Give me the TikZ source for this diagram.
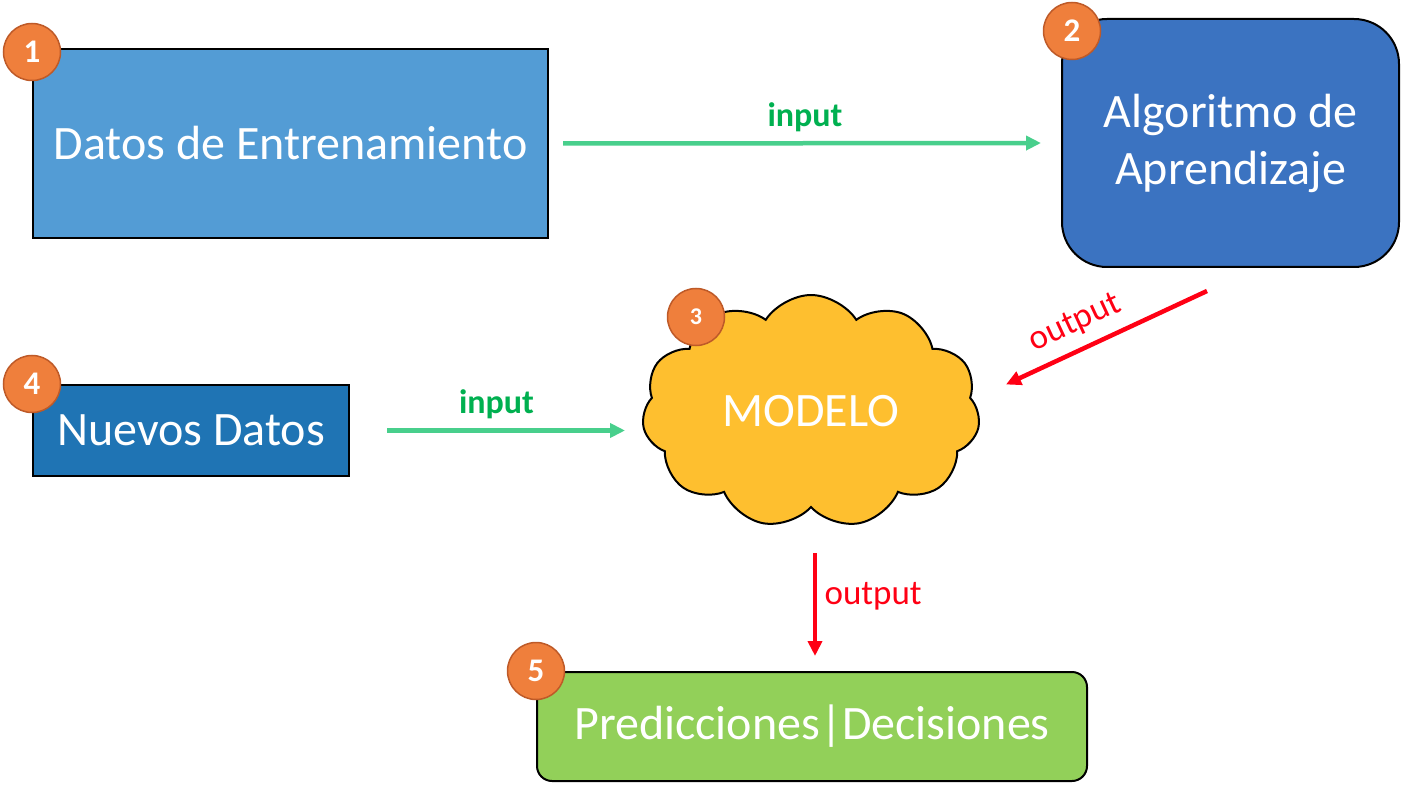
\documentclass[tikz,border=0pt]{standalone}
\usepackage{fontspec}
\setmainfont{Carlito}
\usepackage{tikz}
\usetikzlibrary{calc,arrows.meta,shapes.symbols}
\definecolor{boxlight}{RGB}{83,156,213}
\definecolor{boxmid}{RGB}{59,115,193}
\definecolor{boxdark}{RGB}{31,116,180}
\definecolor{cloudfill}{RGB}{254,191,47}
\definecolor{predfill}{RGB}{146,208,89}
\definecolor{badgefill}{RGB}{239,127,60}
\definecolor{badgeline}{RGB}{190,90,40}
\definecolor{inline}{RGB}{72,207,140}
\definecolor{intext}{RGB}{0,176,80}
\definecolor{outred}{RGB}{255,0,20}
\tikzset{
  bigtext/.style={text=white, font=\fontsize{48}{57}\selectfont},
  stagebox/.style={
    bigtext, draw=black, line width=2pt, inner sep=0pt
  },
  badge/.style={
    circle, fill=badgefill, draw=badgeline, line width=1.5pt,
    minimum size=57pt, inner sep=0pt, text=white,
    font=\bfseries\fontsize{33}{35}\selectfont
  },
  inarrow/.style={
    draw=inline, line width=4.5pt,
    -{Triangle[length=15pt,width=14pt]}
  },
  outarrow/.style={
    draw=outred, line width=4.5pt,
    -{Triangle[length=15pt,width=14pt]}
  },
  inlabel/.style={text=intext, font=\bfseries\fontsize{34}{40}\selectfont},
  outlabel/.style={text=outred, font=\fontsize{35}{40}\selectfont}
}

\begin{document}
\begin{tikzpicture}[x=1pt,y=-1pt]
  \useasboundingbox (0,0) rectangle (1405,786);

  % the five stages
  \node[stagebox, fill=boxlight, minimum width=515pt, minimum height=189pt]
    (datos) at (290.5,143.5) {Datos de Entrenamiento};
  \node[stagebox, fill=boxmid, rounded corners=45pt, align=center,
    minimum width=337pt, minimum height=248pt]
    (algo) at (1230.5,143) {Algoritmo de\\Aprendizaje};
  \node[stagebox, fill=boxdark, minimum width=316pt, minimum height=91pt]
    (nuevos) at (191,430.5) {Nuevos Datos};
  \node[cloud, cloud puffs=11, cloud puff arc=115, aspect=1.5,
    draw=black, line width=2pt, fill=cloudfill, bigtext,
    minimum width=338pt, minimum height=233pt, inner sep=0pt]
    (modelo) at (811,411.5) {MODELO};
  \node[stagebox, fill=predfill, rounded corners=15pt,
    minimum width=550pt, minimum height=109pt]
    (pred) at (812,726.5) {Predicciones|Decisiones};

  % connectors
  \draw[inarrow, shorten <=14pt, shorten >=20pt] (datos.east) -- (algo.west)
    node[midway, above=6pt, inlabel] {input};
  \coordinate (o1) at ([xshift=-23.5pt, yshift=-23pt]algo.south);
  \coordinate (o2) at ([xshift=27pt, yshift=27pt]modelo.east);
  \draw[outarrow] (o1) -- (o2)
    node[pos=0.6, sloped, above=7pt, outlabel] {output};
  \draw[inarrow, shorten <=37pt, shorten >=18pt]
    (nuevos.east) -- (nuevos.east -| modelo.west)
    node[midway, above=6pt, inlabel] {input};
  \draw[outarrow, shorten <=45pt, shorten >=15pt]
    ([xshift=4pt]modelo.south) -- ([xshift=4pt]modelo.south |- pred.north)
    node[pos=0.54, right=4pt, outlabel] {output};

  % step numbers
  \node[badge] (b1) at (32,52) {1};
  \node[badge] (b2) at (1072,31) {2};
  \node[badge, font=\bfseries\fontsize{24}{26}\selectfont] (b3) at (696,317) {3};
  \node[badge] (b4) at (nuevos.north west) {4};
  \node[badge] (b5) at (pred.north west) {5};
\end{tikzpicture}
\end{document}
